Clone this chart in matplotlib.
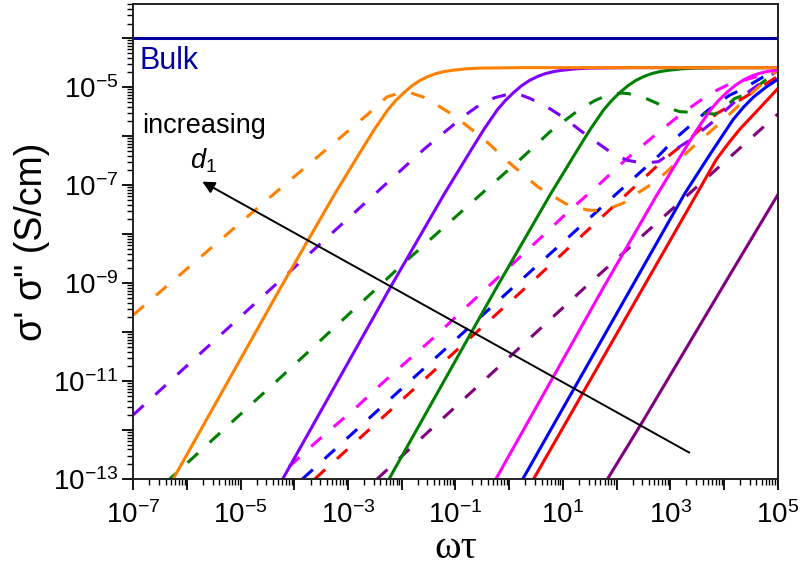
import numpy as np
import matplotlib
matplotlib.use('Agg')
import matplotlib.pyplot as plt
from matplotlib.ticker import FixedLocator, LogLocator, FuncFormatter, NullFormatter

plt.rcParams['font.family'] = ['Liberation Sans', 'DejaVu Sans']
plt.rcParams['mathtext.fontset'] = 'custom'
plt.rcParams['mathtext.rm'] = 'Liberation Sans'
plt.rcParams['mathtext.it'] = 'Liberation Sans:italic'

# all values are log10 exponents (x = log10(wt), y = log10(sigma))
bulk_level = -4.0

sat_y = [-13.2, -9.1, -7.2, -6.3, -5.86, -5.46, -5.27, -5.11, -4.97, -4.86, -4.78, -4.72,
         -4.68, -4.655, -4.625, -4.61, -4.6]
orange_solid_x = [-6.36, -4.26, -3.26, -2.76, -2.51, -2.26, -2.11, -1.96, -1.81, -1.66, -1.51, -1.36,
                  -1.21, -1.06, -0.81, -0.56, 0.24]
orange_solid_y = sat_y
violet_solid_x = [-4.32, -2.22, -1.22, -0.72, -0.47, -0.22, -0.07, 0.08, 0.23, 0.38, 0.53, 0.68,
                  0.83, 0.98, 1.23, 1.48, 2.28]
violet_solid_y = sat_y
green_solid_x = [-2.34, -0.24, 0.76, 1.26, 1.51, 1.76, 1.91, 2.06, 2.21, 2.36, 2.51, 2.66,
                 2.81, 2.96, 3.21, 3.46, 4.26]
green_solid_y = sat_y
magenta_solid_x = [-0.35, 1.75, 2.75, 3.25, 3.5, 3.75, 3.9, 4.05, 4.2, 4.35, 4.5, 4.65, 4.8, 4.95, 5.0]
magenta_solid_y = [-13.2, -9.1, -7.2, -6.3, -5.86, -5.46, -5.27, -5.11, -4.97, -4.86, -4.78, -4.72,
                   -4.68, -4.655, -4.65]
blue_solid_x = [0.15, 3.27, 3.74, 4.17, 4.37, 4.55, 4.78, 5.0]
blue_solid_y = [-13.2, -7.17, -6.37, -5.66, -5.4, -5.2, -5.0, -4.84]
red_solid_x = [0.35, 3.3, 3.86, 4.1, 4.3, 4.67, 5.0]
red_solid_y = [-13.2, -7.55, -6.47, -6.12, -5.85, -5.42, -5.03]
purple_solid_x = [1.72, 2.5, 4.05, 5.0]
purple_solid_y = [-13.2, -11.8, -8.94, -7.2]

orange_dash_x = [-7.0, -4.5, -2.6, -2.28, -2.05, -1.85, -1.6, -1.29, -1.04, -0.48, 0.02, 0.54, 1.1,
                 1.47, 1.75, 2.12, 2.34, 2.72, 2.93, 3.46, 3.99, 4.48, 4.92, 5.0]
orange_dash_y = [-9.65, -7.29, -5.52, -5.2, -5.12, -5.11, -5.2, -5.4, -5.57, -6.05, -6.56, -7.04, -7.41,
                 -7.51, -7.52, -7.37, -7.2, -6.93, -6.73, -6.18, -5.67, -5.16, -4.72, -4.65]
violet_dash_x = [-7.0, -4.33, -1.57, -1.35, -0.82, -0.51, -0.26, 0.0, 0.15, 0.39, 0.76, 1.04, 1.32,
                 1.57, 1.88, 2.19, 2.5, 2.78, 3.18, 3.37, 3.8, 4.2, 4.6, 5.0]
violet_dash_y = [-11.69, -9.01, -6.25, -6.05, -5.57, -5.33, -5.21, -5.14, -5.13, -5.23, -5.44, -5.64, -5.88,
                 -6.08, -6.32, -6.49, -6.55, -6.52, -6.21, -6.08, -5.7, -5.3, -4.98, -4.66]
green_dash_x = [-6.4, -4.24, -1.94, -0.48, 0.26, 0.76, 1.29, 1.6, 1.88, 2.1, 2.22, 2.53, 2.9, 3.18,
                3.55, 3.83, 4.0, 4.2, 4.45, 5.0]
green_dash_y = [-13.08, -10.91, -8.57, -7.14, -6.42, -5.91, -5.47, -5.27, -5.14, -5.12, -5.13, -5.22, -5.4, -5.5,
                -5.52, -5.55, -5.42, -5.23, -5.13, -4.66]
magenta_dash_x = [-4.1, -3.59, -2.87, -2.37, -1.35, -0.86, -0.36, 0.14, 0.64, 1.13, 1.66, 2.16, 2.68,
                  3.21, 3.52, 3.74, 4.11, 4.33, 5.0]
magenta_dash_y = [-12.75, -12.24, -11.56, -11.05, -10.06, -9.55, -9.04, -8.53, -8.02, -7.51, -7.0, -6.49, -6.01,
                  -5.54, -5.3, -5.13, -4.93, -4.87, -4.66]
blue_dash_x = [-3.85, -3.46, 0.29, 2.81, 3.09, 3.27, 3.7, 4.11, 4.36, 4.73, 5.0]
blue_dash_y = [-13.0, -12.61, -8.87, -6.37, -6.05, -5.88, -5.47, -5.16, -5.03, -4.79, -4.66]
red_dash_x = [-3.62, -3.4, 0.36, 2.87, 3.37, 3.86, 4.24, 4.45, 4.75, 5.0]
red_dash_y = [-13.0, -12.78, -9.04, -6.49, -6.05, -5.54, -5.3, -5.16, -4.95, -4.78]
purple_dash_x = [-2.46, 1.41, 5.0]
purple_dash_y = [-13.0, -9.09, -5.55]

ORANGE = '#ff8000'
VIOLET = '#8000ff'
GREEN = '#008000'
MAGENTA = '#ff00ff'
BLUE = '#0000ff'
RED = '#ff0000'
PURPLE = '#800080'
NAVY = '#0000a0'

solids = [(purple_solid_x, purple_solid_y, PURPLE), (red_solid_x, red_solid_y, RED),
          (blue_solid_x, blue_solid_y, BLUE), (magenta_solid_x, magenta_solid_y, MAGENTA),
          (green_solid_x, green_solid_y, GREEN), (violet_solid_x, violet_solid_y, VIOLET),
          (orange_solid_x, orange_solid_y, ORANGE)]
dashes = [(purple_dash_x, purple_dash_y, PURPLE), (red_dash_x, red_dash_y, RED),
          (blue_dash_x, blue_dash_y, BLUE), (magenta_dash_x, magenta_dash_y, MAGENTA),
          (green_dash_x, green_dash_y, GREEN), (violet_dash_x, violet_dash_y, VIOLET),
          (orange_dash_x, orange_dash_y, ORANGE)]

fig = plt.figure(figsize=(8.01, 5.75), dpi=100)
ax = fig.add_axes([0.1664, 0.167, 0.8045, 0.826])

ax.plot([1e-7, 1e5], [10 ** bulk_level] * 2, color=NAVY, lw=2.2)
for x, y, c in dashes:
    ax.plot(10 ** np.array(x), 10 ** np.array(y), color=c, lw=2.2, ls=(0, (4.6, 5.2)))
for x, y, c in solids:
    # plateau continues to the right edge
    xx = list(x) + ([5.0] if x[-1] < 5.0 else [])
    yy = list(y) + ([y[-1]] if x[-1] < 5.0 else [])
    ax.plot(10 ** np.array(xx), 10 ** np.array(yy), color=c, lw=2.2)

ax.set_xscale('log')
ax.set_yscale('log')
ax.set_xlim(1e-7, 1e5)
ax.set_ylim(1e-13, 5e-4)


def fmt(v, pos):
    e = int(round(np.log10(v)))
    if e % 2 == 0:
        return ''
    return r'$\mathregular{10^{%d}}$' % e


ax.xaxis.set_major_locator(FixedLocator(10.0 ** np.arange(-7, 6)))
ax.yaxis.set_major_locator(FixedLocator(10.0 ** np.arange(-13, -3)))
ax.xaxis.set_major_formatter(FuncFormatter(fmt))
ax.yaxis.set_major_formatter(FuncFormatter(fmt))
ax.xaxis.set_minor_locator(LogLocator(base=10, subs=np.arange(2, 10), numticks=50))
ax.yaxis.set_minor_locator(LogLocator(base=10, subs=np.arange(2, 10), numticks=50))
ax.xaxis.set_minor_formatter(NullFormatter())
ax.yaxis.set_minor_formatter(NullFormatter())
ax.tick_params(which='major', direction='out', length=8, width=1.3, labelsize=20,
               top=False, right=False)
ax.tick_params(which='minor', direction='out', length=4.5, width=1.0, top=False, right=False)
ax.tick_params(axis='x', which='major', pad=8)
ax.tick_params(axis='y', which='major', pad=3)
for s in ax.spines.values():
    s.set_linewidth(1.4)
    s.set_color('#222222')

ax.set_xlabel('ωτ', fontsize=29, family=['Liberation Serif', 'DejaVu Serif'], labelpad=1)
ax.set_ylabel('σ\' σ" (S/cm)', fontsize=27, labelpad=2)

ax.text(10 ** -6.875, 10 ** -4.465, 'Bulk', color=NAVY, fontsize=22, va='center', ha='left')
ax.text(10 ** -6.84, 10 ** -5.945, 'increasing', fontsize=19.5, va='baseline', ha='left')
ax.text(10 ** -5.944, 10 ** -6.66, r'$\mathit{d}_{\mathit{1}}$', fontsize=19.5, va='baseline', ha='left')
ax.annotate('', xy=(10 ** -5.76, 10 ** -6.9), xytext=(10 ** 3.4, 10 ** -12.49),
            arrowprops=dict(arrowstyle='-|>', color='black', lw=1.4, mutation_scale=18))

fig.savefig('out.png', dpi=100)
